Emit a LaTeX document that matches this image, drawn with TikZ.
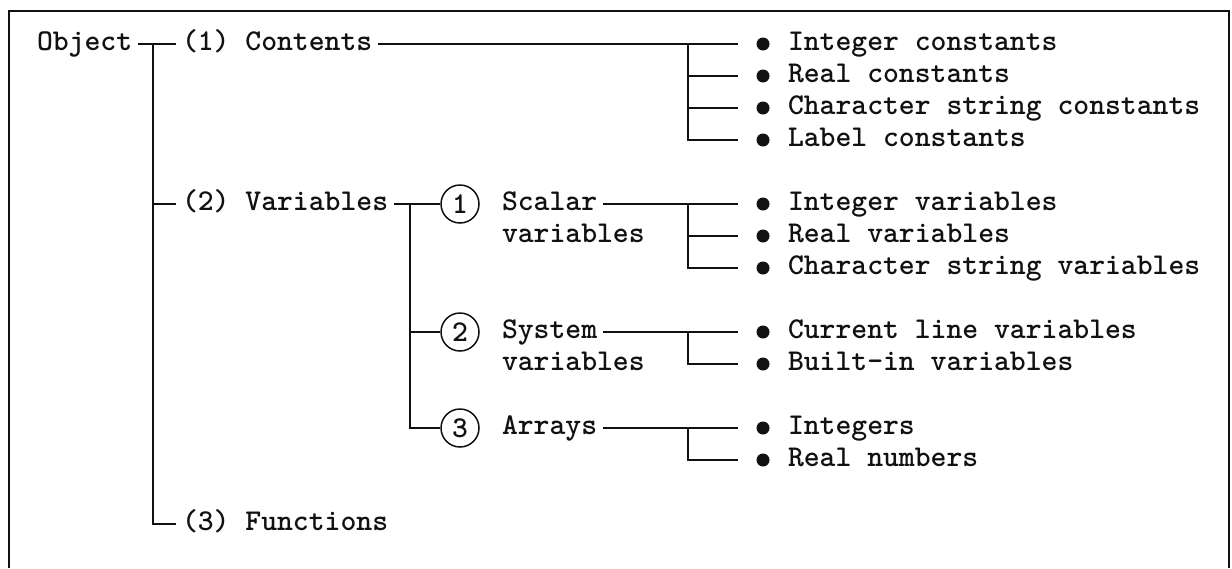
\documentclass[tikz,border=0pt]{standalone}
\usepackage{tikz}
\usetikzlibrary{positioning,calc}
\definecolor{ink}{HTML}{111111}

\tikzset{
  txt/.style={anchor=mid west,inner sep=0pt,outer xsep=3pt,text=ink},
  num/.style={circle,draw=ink,line width=.75pt,minimum size=19pt,inner sep=0pt,text=ink},
  dot/.style={circle,fill=ink,minimum size=6.5pt,inner sep=0pt,outer sep=9.25pt},
  frame/.style={draw=ink,line width=1pt}
}

\begin{document}
\fontsize{15.1}{18}\selectfont\ttfamily\bfseries
\begin{tikzpicture}[x=.5pt,y=-.5pt,line width=.8pt]
\useasboundingbox (0,0) rectangle (1232,568);
% open frame
\draw[frame] (9,568) -- (9,11) -- (1229,11) -- (1229,568);
% root and first level
\node[txt] (obj) at (31,44) {Object};
\node[txt] (cont) at (176,44) {(1) Contents};
\node[txt] (var) at (176,204) {(2) Variables};
\node[txt] (fun) at (176,524) {(3) Functions};
% second level under Variables
\node[num] (c1) at (460,204) {1};
\node[num] (c2) at (460,332) {2};
\node[num] (c3) at (460,428) {3};
\node[txt] (sca) at (496,204) {Scalar};
\node[txt] (sca2) at (496,236) {variables};
\node[txt] (sys) at (496,332) {System};
\node[txt] (sys2) at (496,364) {variables};
\node[txt] (arr) at (496,428) {Arrays};
% leaves
\node[dot] (b1) at (763,44) {};  \node[txt] (n1) at (782,44) {Integer constants};
\node[dot] (b2) at (763,76) {};  \node[txt] (n2) at (782,76) {Real constants};
\node[dot] (b3) at (763,108) {}; \node[txt] (n3) at (782,108) {Character string constants};
\node[dot] (b4) at (763,140) {}; \node[txt] (n4) at (782,140) {Label constants};
\node[dot] (b5) at (763,204) {}; \node[txt] (n5) at (782,204) {Integer variables};
\node[dot] (b6) at (763,236) {}; \node[txt] (n6) at (782,236) {Real variables};
\node[dot] (b7) at (763,268) {}; \node[txt] (n7) at (782,268) {Character string variables};
\node[dot] (b8) at (763,332) {}; \node[txt] (n8) at (782,332) {Current line variables};
\node[dot] (b9) at (763,364) {}; \node[txt] (n9) at (782,364) {Built-in variables};
\node[dot] (b10) at (763,428) {}; \node[txt] (n10) at (782,428) {Integers};
\node[dot] (b11) at (763,460) {}; \node[txt] (n11) at (782,460) {Real numbers};
% junctions
\coordinate (j0) at (153,44);
\coordinate (j1) at (410,204);
\coordinate (j2) at (688,44);
\coordinate (j3) at (688,204);
\coordinate (j4) at (688,332);
\coordinate (j5) at (688,428);
% root branches
\draw[ink] (obj.mid east) -- (cont.mid west);
\draw[ink] (j0) |- (fun.mid west);
\draw[ink] (j0 |- var.mid west) -- (var.mid west);
% contents
\draw[ink] (cont.mid east) -- (b1.west);
\draw[ink] (j2) |- (b4.west);
\draw[ink] (j2 |- b2.west) -- (b2.west);
\draw[ink] (j2 |- b3.west) -- (b3.west);
% variables
\draw[ink] (var.mid east) -- (c1.west);
\draw[ink] (j1) |- (c3.west);
\draw[ink] (j1 |- c2.west) -- (c2.west);
% scalar variables
\draw[ink] (sca.mid east) -- (b5.west);
\draw[ink] (j3) |- (b7.west);
\draw[ink] (j3 |- b6.west) -- (b6.west);
% system variables
\draw[ink] (sys.mid east) -- (b8.west);
\draw[ink] (j4) |- (b9.west);
% arrays
\draw[ink] (arr.mid east) -- (b10.west);
\draw[ink] (j5) |- (b11.west);
\end{tikzpicture}
\end{document}
